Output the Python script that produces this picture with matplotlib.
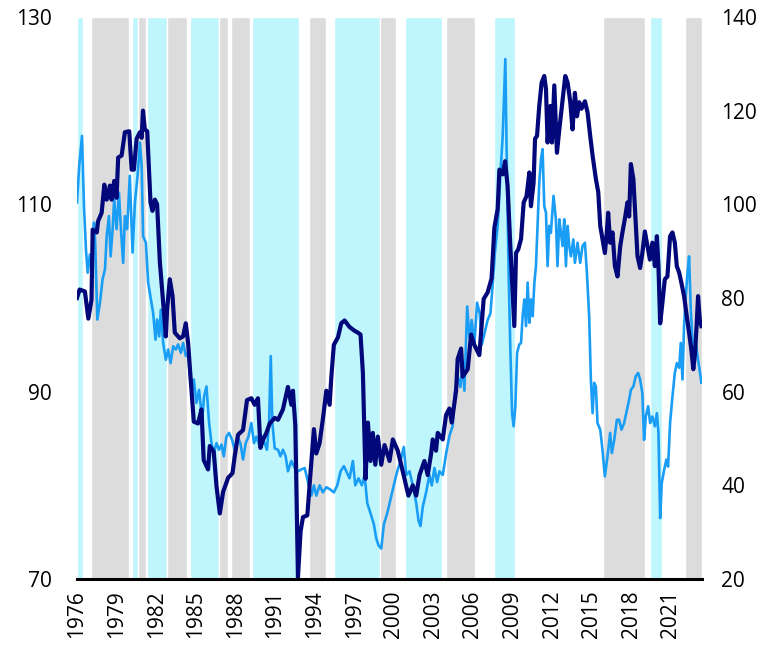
import matplotlib
matplotlib.use("Agg")
import matplotlib.pyplot as plt

# --- Data ---
# dark series, left axis: (decimal year, value)
dark_years = [
    1976.0, 1976.2, 1976.6, 1976.86, 1977.1, 1977.19, 1977.5, 1977.6, 1977.87, 1978.07,
    1978.25, 1978.5, 1978.62, 1978.82, 1979.0, 1979.12, 1979.38, 1979.63, 1979.96, 1980.14,
    1980.31, 1980.52, 1980.77, 1980.9, 1981.0, 1981.14, 1981.32, 1981.57, 1981.72, 1981.9,
    1982.07, 1982.28, 1982.53, 1982.73, 1982.83, 1983.03, 1983.24, 1983.41, 1983.79, 1984.04,
    1984.24, 1984.42, 1984.6, 1984.85, 1985.17, 1985.43, 1985.6, 1985.93, 1986.06, 1986.36,
    1986.57, 1986.82, 1987.07, 1987.45, 1987.78, 1987.95, 1988.2, 1988.58, 1988.88, 1989.21,
    1989.46, 1989.71, 1989.9, 1990.1, 1990.35, 1990.6, 1990.98, 1991.23, 1991.6, 1991.98,
    1992.24, 1992.36, 1992.54, 1992.74, 1992.94, 1993.12, 1993.45, 1993.7, 1993.95, 1994.13,
    1994.38, 1994.63, 1994.89, 1995.14, 1995.27, 1995.46, 1995.77, 1996.02, 1996.27, 1996.65,
    1997.03, 1997.28, 1997.48, 1997.66, 1997.86, 1998.04, 1998.24, 1998.41, 1998.6, 1998.79,
    1999.05, 1999.3, 1999.68, 1999.93, 2000.3, 2000.56, 2000.81, 2001.11, 2001.44, 2001.7,
    2001.95, 2002.32, 2002.57, 2002.83, 2002.95, 2003.2, 2003.33, 2003.71, 2003.96, 2004.21,
    2004.39, 2004.72, 2004.84, 2005.1, 2005.22, 2005.6, 2005.86, 2006.1, 2006.48, 2006.81,
    2007.11, 2007.41, 2007.62, 2007.87, 2008.0, 2008.25, 2008.43, 2008.62, 2008.83, 2009.0,
    2009.13, 2009.26, 2009.43, 2009.64, 2009.84, 2010.06, 2010.27, 2010.39, 2010.59, 2010.7,
    2010.85, 2011.02, 2011.2, 2011.4, 2011.53, 2011.65, 2011.86, 2011.98, 2012.16, 2012.36,
    2012.54, 2012.79, 2012.99, 2013.17, 2013.37, 2013.54, 2013.72, 2013.88, 2014.05, 2014.22,
    2014.48, 2014.68, 2014.88, 2015.06, 2015.31, 2015.49, 2015.64, 2015.81, 2015.99, 2016.14,
    2016.24, 2016.39, 2016.57, 2016.75, 2016.95, 2017.15, 2017.32, 2017.5, 2017.7, 2017.83,
    2017.96, 2018.15, 2018.33, 2018.46, 2018.66, 2018.83, 2019.02, 2019.22, 2019.4, 2019.59,
    2019.78, 2019.93, 2020.05, 2020.18, 2020.35, 2020.53, 2020.73, 2020.93, 2021.11, 2021.29,
    2021.44, 2021.62, 2021.79, 2021.99, 2022.19, 2022.37, 2022.54, 2022.69, 2022.82, 2022.95,
    2023.05, 2023.18, 2023.3,
]
dark_values = [
    100.0, 100.9, 100.7, 97.8, 99.8, 107.3, 107.0, 108.2, 109.1, 112.1,
    110.5, 112.0, 110.5, 112.5, 110.7, 115.0, 115.2, 117.7, 117.8, 113.7,
    113.7, 117.0, 117.7, 117.1, 120.0, 118.0, 117.8, 110.2, 109.3, 110.5,
    110.0, 103.8, 99.5, 95.9, 98.8, 102.0, 100.2, 96.3, 95.7, 95.9,
    97.3, 95.2, 91.6, 86.8, 86.6, 88.1, 82.7, 81.7, 84.2, 83.6,
    79.9, 77.0, 79.3, 80.8, 81.3, 83.1, 85.4, 85.9, 89.1, 89.3,
    88.6, 89.3, 84.0, 84.9, 85.6, 86.6, 87.2, 87.0, 88.1, 90.5,
    88.6, 90.1, 86.4, 70.2, 75.1, 76.6, 76.8, 81.5, 86.0, 83.4,
    84.5, 87.1, 90.1, 88.6, 91.6, 95.0, 95.8, 97.3, 97.6, 96.9,
    96.5, 96.3, 96.1, 92.0, 80.7, 86.7, 82.6, 85.6, 82.2, 85.2,
    82.2, 84.3, 82.6, 84.9, 83.7, 82.2, 80.7, 78.9, 80.0, 78.9,
    81.1, 82.6, 81.1, 83.4, 84.9, 83.7, 85.6, 84.9, 87.5, 88.2,
    86.7, 90.1, 93.5, 94.6, 91.6, 92.4, 96.1, 95.0, 93.9, 99.9,
    100.6, 102.1, 107.5, 109.5, 113.7, 113.2, 114.6, 112.0, 105.5, 100.6,
    97.0, 104.8, 105.2, 106.3, 110.2, 110.9, 113.4, 109.8, 112.3, 117.0,
    117.3, 120.5, 123.0, 123.7, 122.3, 116.6, 120.5, 116.6, 122.7, 115.5,
    118.0, 121.2, 123.7, 123.0, 120.9, 118.0, 121.9, 119.4, 120.9, 120.2,
    121.0, 119.8, 117.3, 115.2, 112.7, 111.3, 107.7, 106.3, 104.8, 107.0,
    109.1, 105.9, 107.0, 103.4, 102.3, 105.5, 107.0, 108.4, 110.2, 108.7,
    114.3, 112.7, 108.0, 104.5, 103.2, 104.8, 107.1, 105.5, 104.1, 105.9,
    103.4, 106.6, 103.4, 97.3, 99.5, 102.0, 102.3, 106.6, 107.0, 105.9,
    103.4, 102.7, 101.6, 100.2, 98.1, 96.3, 94.5, 92.4, 94.1, 97.3,
    100.2, 97.7, 97.0,
]

# light series, right axis: (decimal year, value)
light_years = [
    1976.0, 1976.17, 1976.38, 1976.53, 1976.68, 1976.81, 1976.98, 1977.13, 1977.29, 1977.38,
    1977.54, 1977.74, 1977.94, 1978.12, 1978.25, 1978.42, 1978.55, 1978.7, 1978.82, 1979.0,
    1979.18, 1979.33, 1979.5, 1979.63, 1979.8, 1980.0, 1980.21, 1980.39, 1980.59, 1980.77,
    1980.9, 1981.01, 1981.22, 1981.39, 1981.6, 1981.77, 1981.95, 1982.07, 1982.23, 1982.35,
    1982.53, 1982.73, 1982.91, 1983.09, 1983.29, 1983.49, 1983.66, 1983.87, 1984.04, 1984.25,
    1984.42, 1984.55, 1984.73, 1984.85, 1985.05, 1985.25, 1985.48, 1985.63, 1985.81, 1986.01,
    1986.19, 1986.36, 1986.57, 1986.76, 1986.95, 1987.12, 1987.32, 1987.52, 1987.75, 1987.95,
    1988.16, 1988.38, 1988.58, 1988.78, 1988.99, 1989.21, 1989.41, 1989.59, 1989.84, 1990.05,
    1990.22, 1990.39, 1990.55, 1990.68, 1990.8, 1990.98, 1991.23, 1991.41, 1991.6, 1991.81,
    1991.98, 1992.24, 1992.49, 1992.74, 1993.0, 1993.25, 1993.5, 1993.75, 1993.95, 1994.13,
    1994.38, 1994.63, 1994.89, 1995.14, 1995.46, 1995.72, 1995.97, 1996.22, 1996.4, 1996.65,
    1996.9, 1997.08, 1997.33, 1997.58, 1997.79, 1997.99, 1998.24, 1998.49, 1998.67, 1998.84,
    1999.05, 1999.25, 1999.5, 1999.75, 2000.0, 2000.26, 2000.51, 2000.76, 2000.94, 2001.19,
    2001.44, 2001.7, 2001.87, 2002.02, 2002.2, 2002.45, 2002.7, 2002.88, 2003.08, 2003.28,
    2003.46, 2003.71, 2003.96, 2004.21, 2004.46, 2004.64, 2004.84, 2005.05, 2005.22, 2005.35,
    2005.56, 2005.73, 2005.9, 2006.1, 2006.31, 2006.51, 2006.66, 2006.86, 2007.11, 2007.32,
    2007.49, 2007.67, 2007.87, 2008.07, 2008.25, 2008.45, 2008.57, 2008.7, 2008.83, 2008.96,
    2009.08, 2009.21, 2009.34, 2009.51, 2009.64, 2009.76, 2009.89, 2010.02, 2010.14, 2010.27,
    2010.39, 2010.52, 2010.65, 2010.77, 2010.9, 2011.02, 2011.15, 2011.27, 2011.4, 2011.53,
    2011.65, 2011.78, 2011.9, 2012.1, 2012.28, 2012.4, 2012.54, 2012.66, 2012.79, 2012.91,
    2013.04, 2013.17, 2013.29, 2013.42, 2013.6, 2013.72, 2013.92, 2014.12, 2014.3, 2014.48,
    2014.63, 2014.8, 2014.93, 2015.06, 2015.18, 2015.31, 2015.43, 2015.64, 2015.81, 2015.99,
    2016.19, 2016.39, 2016.52, 2016.7, 2016.9, 2017.07, 2017.25, 2017.45, 2017.66, 2017.83,
    2017.96, 2018.15, 2018.33, 2018.51, 2018.66, 2018.83, 2018.96, 2019.09, 2019.27, 2019.42,
    2019.59, 2019.78, 2019.93, 2020.05, 2020.18, 2020.3, 2020.48, 2020.65, 2020.78, 2020.93,
    2021.11, 2021.29, 2021.44, 2021.62, 2021.74, 2021.87, 2021.99, 2022.12, 2022.25, 2022.37,
    2022.5, 2022.62, 2022.75, 2022.88, 2023.05, 2023.2, 2023.3,
]
light_values = [
    100.4, 108.2, 114.6, 99.6, 90.4, 85.4, 89.3, 87.2, 96.1, 91.8,
    75.4, 79.0, 84.0, 86.1, 93.2, 97.5, 88.9, 94.7, 101.1, 94.7,
    102.5, 94.7, 87.5, 97.5, 94.7, 106.1, 89.7, 100.4, 106.1, 113.2,
    108.2, 93.2, 91.8, 83.3, 79.7, 76.8, 71.1, 75.4, 71.8, 77.5,
    70.4, 66.8, 69.0, 66.1, 69.7, 69.0, 70.1, 68.3, 70.4, 67.6,
    68.3, 63.3, 60.4, 62.6, 57.6, 60.4, 54.0, 59.0, 61.1, 53.3,
    49.0, 46.9, 49.0, 47.6, 48.7, 46.2, 50.4, 51.2, 49.7, 47.6,
    50.4, 49.0, 45.5, 49.0, 50.4, 53.3, 49.0, 50.4, 48.3, 50.4,
    49.0, 47.6, 53.3, 67.6, 53.3, 47.9, 47.6, 46.2, 47.6, 46.2,
    43.0, 45.2, 43.7, 43.0, 43.4, 43.7, 40.7, 37.8, 40.0, 37.8,
    40.0, 38.5, 39.6, 39.2, 38.5, 40.0, 43.0, 44.1, 43.0, 41.5,
    45.2, 40.0, 41.5, 40.0, 42.2, 36.2, 34.0, 31.7, 28.7, 27.2,
    26.5, 31.7, 34.0, 37.0, 40.0, 43.0, 45.2, 48.2, 42.2, 43.0,
    40.0, 36.2, 32.5, 31.3, 35.5, 38.5, 42.2, 40.0, 43.7, 40.7,
    43.0, 42.2, 46.7, 50.5, 52.7, 60.2, 63.3, 61.0, 66.2, 60.2,
    78.2, 71.5, 75.3, 70.0, 79.0, 76.7, 70.0, 72.3, 75.3, 76.7,
    82.8, 90.0, 95.4, 106.1, 114.6, 131.0, 106.8, 85.4, 69.0, 55.4,
    52.6, 56.9, 68.3, 70.1, 70.4, 76.1, 79.7, 74.0, 83.3, 74.7,
    79.7, 76.1, 83.3, 86.8, 96.1, 104.6, 109.6, 111.8, 99.6, 98.2,
    86.8, 95.4, 93.9, 101.8, 96.8, 86.8, 96.8, 93.9, 91.1, 96.8,
    86.8, 95.4, 91.1, 88.9, 92.5, 87.5, 91.8, 87.5, 91.1, 91.8,
    85.4, 76.1, 62.6, 55.4, 61.9, 61.1, 53.3, 51.9, 47.6, 41.9,
    46.2, 51.2, 46.9, 49.7, 54.0, 54.0, 51.9, 53.3, 56.1, 58.3,
    60.4, 61.1, 63.3, 64.0, 62.6, 59.7, 49.7, 54.7, 56.9, 53.3,
    54.7, 52.6, 55.4, 51.2, 33.0, 40.5, 43.3, 45.5, 44.0, 53.3,
    59.0, 64.0, 66.1, 65.1, 70.4, 62.6, 74.0, 80.4, 85.4, 88.9,
    77.5, 71.1, 68.3, 70.4, 66.8, 64.0, 61.9,
]

# shaded periods (start, end) in decimal years
cyan_periods = [
    (1976.0, 1976.43), (1980.18, 1980.64), (1981.32, 1982.83), (1984.57, 1986.74),
    (1989.26, 1992.82), (1995.44, 1998.97), (2000.86, 2003.66), (2007.6, 2009.16),
    (2019.42, 2020.3),
]
grey_periods = [
    (1977.06, 1979.93), (1980.64, 1981.22), (1982.83, 1984.37), (1986.74, 1987.44),
    (1987.7, 1989.09), (1993.57, 1994.84), (1998.97, 2000.13), (2003.99, 2006.18),
    (2015.84, 2019.02), (2022.04, 2023.37),
]

x_ticks = list(range(1976, 2022, 3))
left_ticks = [70, 90, 110, 130]
right_ticks = [20, 40, 60, 80, 100, 120, 140]

# --- Style ---
DARK = "#02077a"
LIGHT = "#1a9ef5"
CYAN = "#bff5fc"
GREY = "#dcdcdc"
plt.rcParams["font.family"] = ["Open Sans", "DejaVu Sans"]
FS = 15

fig = plt.figure(figsize=(7.69, 6.46), dpi=100)
ax_l = fig.add_axes([0.1001, 0.1037, 0.8128, 0.8700])
ax_r = ax_l.twinx()

# spans live on the right axis which sits underneath; left axis is on top
ax_l.set_zorder(ax_r.get_zorder() + 1)
ax_l.patch.set_visible(False)

for s, e in cyan_periods:
    ax_r.axvspan(s, e, color=CYAN, ec="white", lw=1.0, zorder=0)
for s, e in grey_periods:
    ax_r.axvspan(s, e, color=GREY, ec="white", lw=1.0, zorder=0)

ax_r.plot(light_years, light_values, color=LIGHT, lw=1.9, zorder=3,
          solid_joinstyle="round")
ax_l.plot(dark_years, dark_values, color=DARK, lw=3.0, zorder=4,
          solid_joinstyle="round")

ax_l.set_xlim(1976.0, 2023.35)
ax_l.set_ylim(70, 130)
ax_r.set_ylim(20, 140)

ax_l.set_yticks(left_ticks)
ax_r.set_yticks(right_ticks)
ax_l.set_xticks(x_ticks)
ax_l.set_xticklabels([str(y) for y in x_ticks], rotation=90)

ax_l.tick_params(axis="y", length=0, pad=18, labelsize=FS)
ax_r.tick_params(axis="y", length=0, pad=14, labelsize=FS)
ax_l.tick_params(axis="x", length=0, pad=8, labelsize=FS)

for ax in (ax_l, ax_r):
    for side in ("left", "right", "top", "bottom"):
        ax.spines[side].set_visible(False)
ax_l.spines["bottom"].set_visible(True)
ax_l.spines["bottom"].set_linewidth(2.2)
ax_l.spines["bottom"].set_color("black")
ax_l.spines["bottom"].set_zorder(10)

fig.savefig("out.png", dpi=100)
